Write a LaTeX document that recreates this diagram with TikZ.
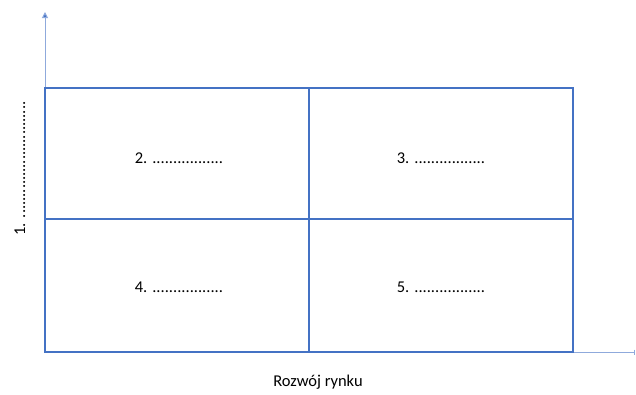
\documentclass[tikz,border=0pt]{standalone}
\usepackage{fontspec}
\setmainfont{Carlito}
\usetikzlibrary{arrows.meta}
\definecolor{boxblue}{HTML}{4472C4}
\definecolor{axisblue}{HTML}{8FAADC}
\begin{document}
\begin{tikzpicture}[x=1pt,y=-1pt,
  lbl/.style={font=\fontsize{16.5}{19}\selectfont, text=black, inner sep=0pt},
  axisline/.style={draw=axisblue, line width=1pt},
  frameline/.style={draw=boxblue, line width=1.4pt},
  divline/.style={draw=boxblue, line width=2.8pt}]
\useasboundingbox (0,0) rectangle (636,394);
\coordinate (origin) at (45,352);
\coordinate (ytop) at (45,12);
\coordinate (xend) at (636,352);
\coordinate (tl) at (45,88);
\coordinate (br) at (573,352);
\coordinate (midtop) at (309,88);
\coordinate (midbot) at (309,352);
\coordinate (midleft) at (45,219);
\coordinate (midright) at (573,219);
% axes
\draw[axisline, -{Triangle[length=6pt,width=6pt,fill=boxblue]}] (origin) -- (ytop);
\draw[axisline, -{Bar[width=5pt,line width=1.5pt]}] (origin) -- ([xshift=-1pt]xend);
% frame
\draw[frameline] (tl) rectangle (br);
\draw[divline] (midtop) -- (midbot);
\draw[divline] (midleft) -- (midright);
% labels
\node[lbl] (q2) at (179,158) {2. .................};
\node[lbl] (q3) at (441,158) {3. .................};
\node[lbl] (q4) at (179,287) {4. .................};
\node[lbl] (q5) at (441,287) {5. .................};
\node[lbl, rotate=90] (ylab) at (20,168.5) {1. ............................};
\node[lbl] (xlab) at (318,382) {Rozwój rynku};
\end{tikzpicture}
\end{document}
